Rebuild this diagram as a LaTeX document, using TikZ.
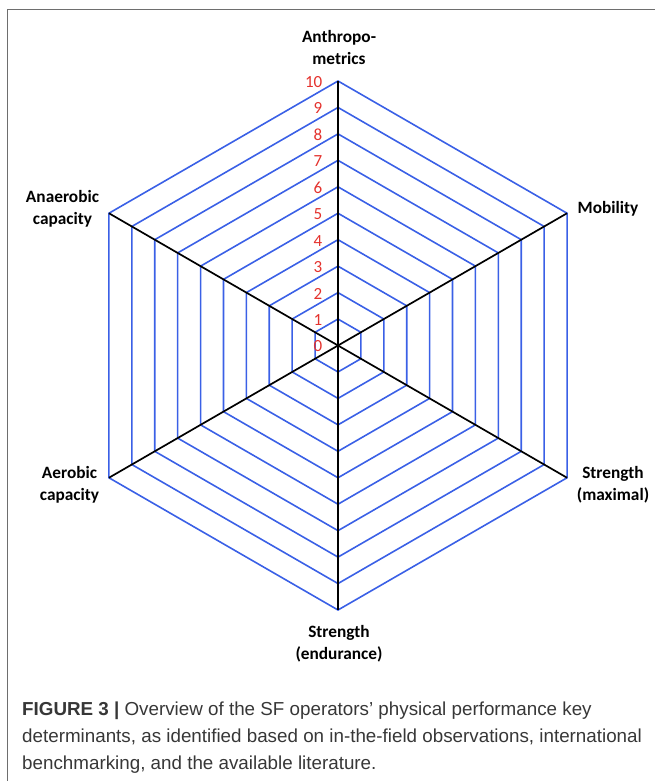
\documentclass[tikz,border=0pt]{standalone}
\usepackage{fontspec}
\usetikzlibrary{calc}
\newfontfamily\labfont{Carlito}
\newfontfamily\capfont{Liberation Sans}
\definecolor{ringblue}{RGB}{58,96,230}
\definecolor{numred}{RGB}{228,50,45}
\definecolor{framegray}{RGB}{110,110,110}
\definecolor{capgray}{RGB}{55,55,55}
\tikzset{
  ring/.style={draw=ringblue,line width=1.6pt,line join=miter},
  spoke/.style={draw=black,line width=1.7pt},
  axislab/.style={font=\labfont\bfseries\fontsize{17.3}{22}\selectfont,align=center,inner sep=0pt},
  numlab/.style={font=\labfont\fontsize{17}{18}\selectfont,text=numred,anchor=east,inner sep=0pt},
  caption/.style={font=\capfont\fontsize{18.8}{24}\selectfont,text=capgray,anchor=base west,inner sep=0pt}
}
\begin{document}
\begin{tikzpicture}[x=1pt,y=-1pt]
\useasboundingbox (0,0) rectangle (655,781);
% frame
\draw[framegray,line width=1.5pt] (7.5,781) -- (7.5,9.5) -- (655,9.5);
% centre and vertices
\coordinate (C) at (338,345.5);
\foreach \k in {1,...,10}{
  \pgfmathsetmacro{\r}{26.45*\k}
  \draw[ring] ($(C)+(90:\r)$) -- ($(C)+(30:\r)$) -- ($(C)+(-30:\r)$) -- ($(C)+(-90:\r)$) -- ($(C)+(-150:\r)$) -- ($(C)+(150:\r)$) -- cycle;
}
\foreach \a/\n in {90/vA,30/vB,-30/vC,-90/vD,-150/vE,150/vF}{
  \coordinate (\n) at ($(C)+(\a:264.5)$);
  \draw[spoke] (C) -- (\n);
}
% scale numbers
\foreach \k in {0,...,10}{
  \node[numlab] (n\k) at (322.5,{346.5-26.45*\k}) {\k};
}
% axis labels
\node[axislab] (anthro) at (339,47) {Anthropo-\\metrics};
\node[axislab] (mob) at (608,209) {Mobility};
\node[axislab] (anaer) at (62.5,208.5) {Anaerobic\\capacity};
\node[axislab] (aer) at (69.5,484.5) {Aerobic\\capacity};
\node[axislab] (smax) at (613,485) {Strength\\(maximal)};
\node[axislab] (send) at (339,644) {Strength\\(endurance)};
% caption
\node[caption] (cap1) at (22,715) {\textbf{FIGURE 3 |} Overview of the SF operators’ physical performance key};
\node[caption] (cap2) at (22,742) {determinants, as identified based on in-the-field observations, international};
\node[caption] (cap3) at (22,769) {benchmarking, and the available literature.};
\end{tikzpicture}
\end{document}
